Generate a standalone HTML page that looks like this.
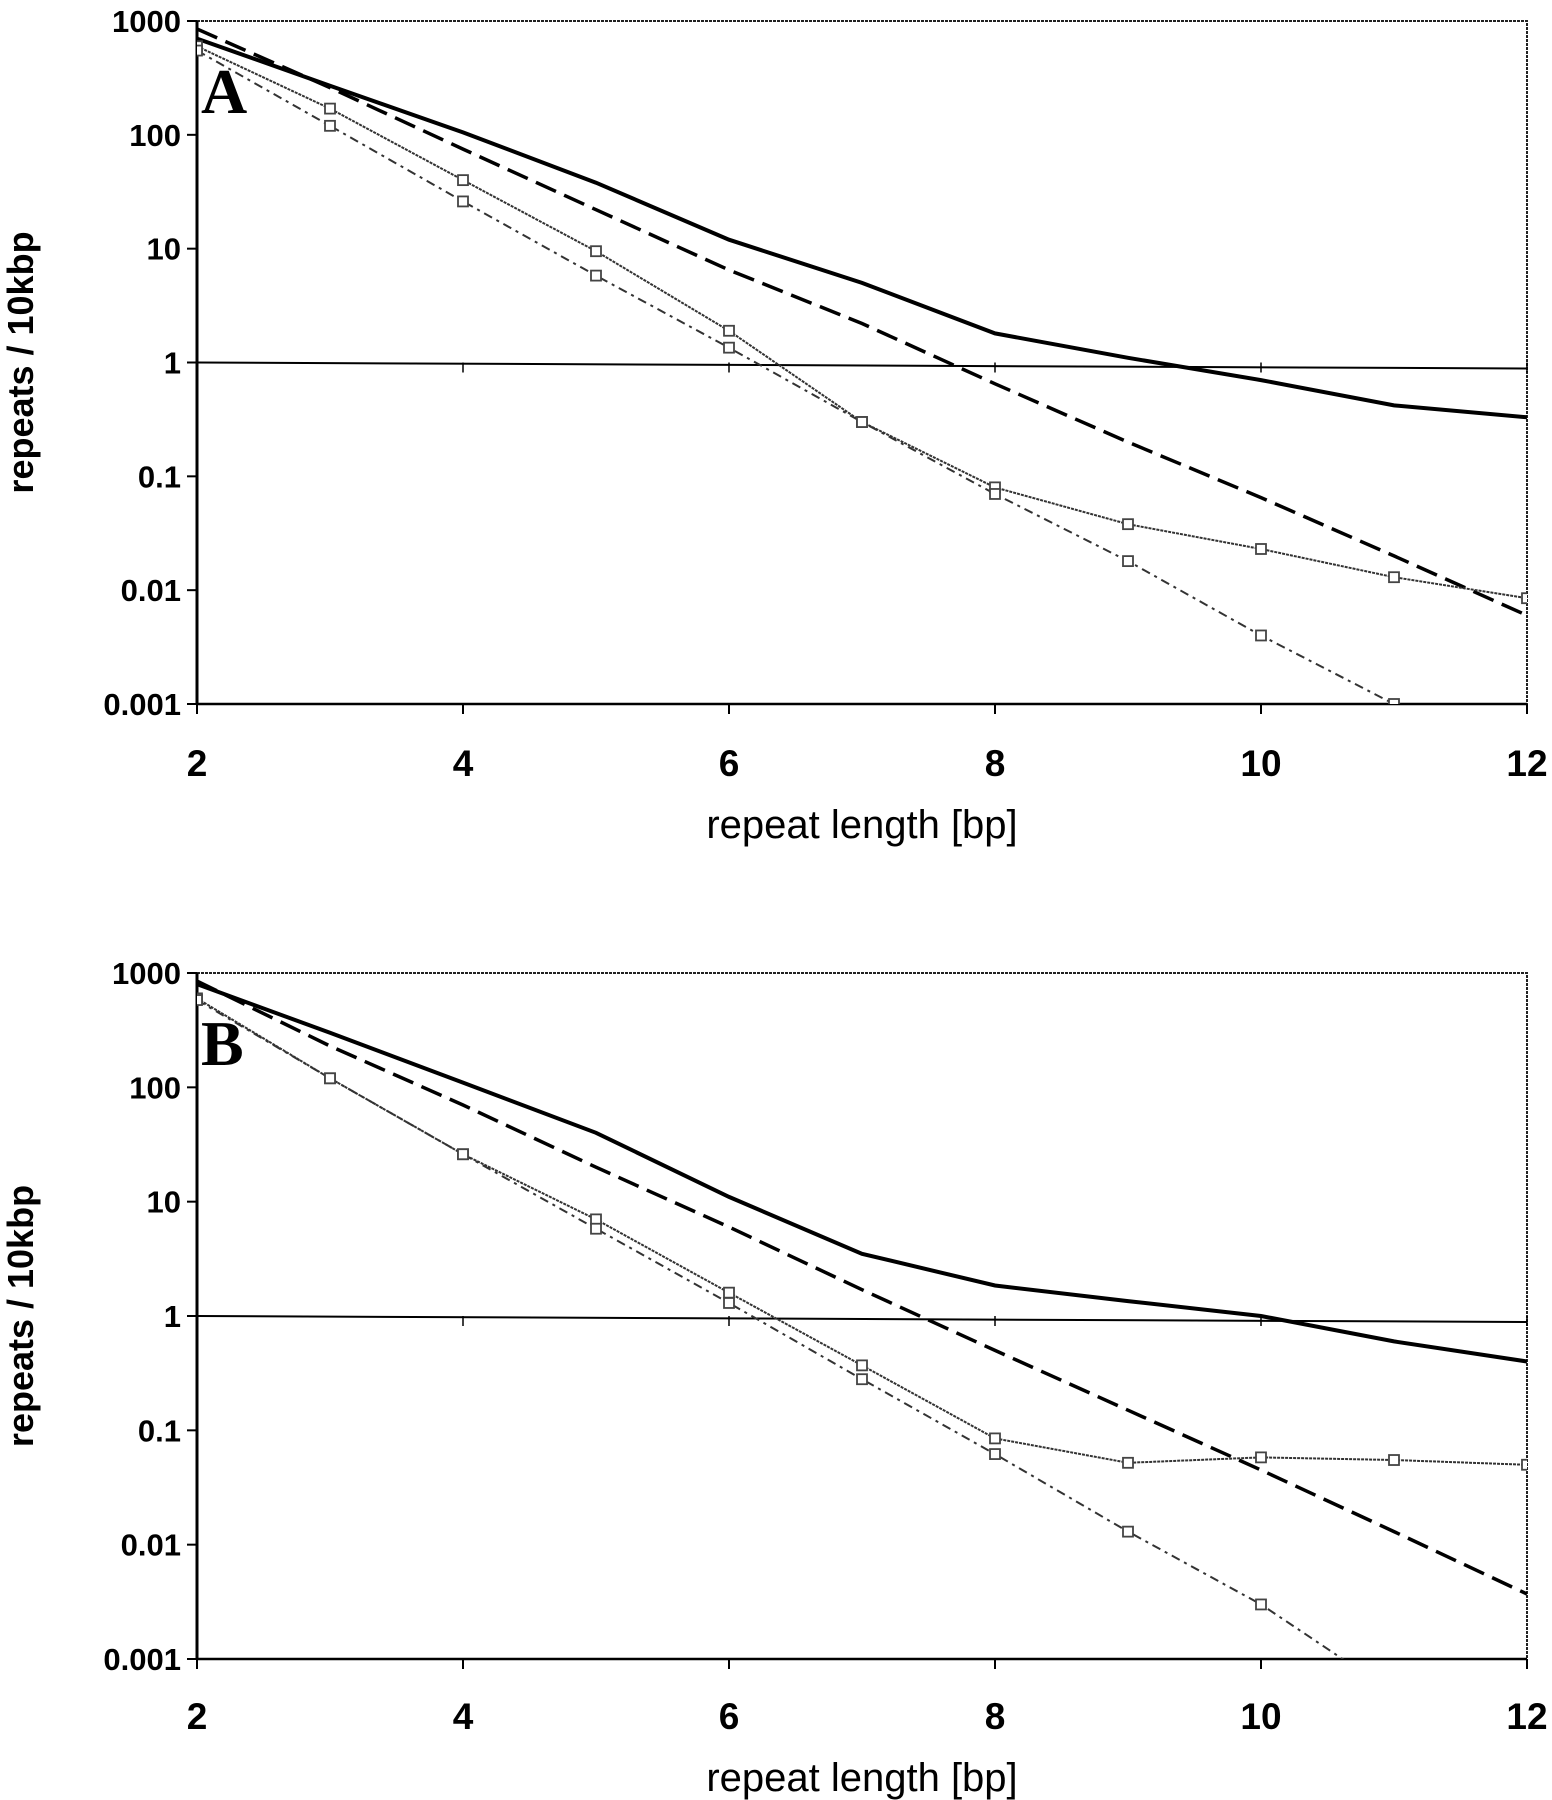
<!DOCTYPE html>
<html><head><meta charset="utf-8"><style>
body{margin:0;background:#fff}
svg{display:block}
text{font-family:"Liberation Sans",Arial,sans-serif;fill:#000}
</style></head><body>
<svg id="fig" width="1552" height="1800" viewBox="0 0 1552 1800" xmlns="http://www.w3.org/2000/svg"></svg>
<script>
const xCats=[2,3,4,5,6,7,8,9,10,11,12];
const xTicks=[2,4,6,8,10,12];
const yTicks=[0.001,0.01,0.1,1,10,100,1000];
const yTickLabels=["0.001","0.01","0.1","1","10","100","1000"];
const aSolid=[700,270,105,38,12,5,1.8,1.1,0.7,0.42,0.33];
const aDashed=[850,260,75,22,6.5,2.2,0.65,0.2,0.065,0.02,0.006];
const aDotted=[600,170,40,9.5,1.9,0.3,0.08,0.038,0.023,0.013,0.0085];
const aDashDot=[550,120,26,5.8,1.35,0.3,0.07,0.018,0.004,0.001,0.0007];
const bSolid=[800,300,110,40,11,3.5,1.85,1.35,1.0,0.6,0.4];
const bDashed=[850,230,70,20,6,1.7,0.5,0.15,0.045,0.013,0.0037];
const bDotted=[600,120,26,7,1.6,0.37,0.085,0.052,0.058,0.055,0.05];
const bDashDot=[580,120,26,5.8,1.3,0.28,0.062,0.013,0.003,0.0005,0.0001];

const NS="http://www.w3.org/2000/svg";
const svg=document.getElementById('fig');
function mk(tag,attrs,parent){const e=document.createElementNS(NS,tag);for(const k in attrs)e.setAttribute(k,attrs[k]);(parent||svg).appendChild(e);return e;}

function panel(id,top,bottom,letter,s1,s2,s3,s4,tickY,labelY){
  const L=197,R=1527;
  const xs=v=>L+(v-2)*(R-L)/10;
  const ys=v=>bottom-(Math.log10(v)+3)*(bottom-top)/6;
  const g=mk('g',{});
  
  
  const cp=mk('clipPath',{id:'clip'+id},g);
  mk('rect',{x:L,y:top,width:R-L,height:bottom-top},cp);
  const frame=mk('rect',{x:L,y:top,width:R-L,height:bottom-top,fill:'none',stroke:'#222','stroke-width':2,'stroke-dasharray':'3 1'},g);
  
  
  const ya=mk('line',{x1:L,y1:top,x2:L,y2:bottom,stroke:'#000','stroke-width':3},g);
  
  
  const xa=mk('line',{x1:L,y1:bottom,x2:R,y2:bottom,stroke:'#000','stroke-width':2.5},g);
  
  
  const ref=mk('line',{x1:L,y1:ys(1),x2:R,y2:ys(1)+6,stroke:'#000','stroke-width':2},g);
  
  
  yTicks.forEach((v,i)=>{
    mk('line',{x1:L-10,y1:ys(v),x2:L,y2:ys(v),stroke:'#000','stroke-width':2},g);
    const t=mk('text',{x:L-16,y:ys(v)+11,'text-anchor':'end','font-size':31,'font-weight':'bold'},g);
    t.textContent=yTickLabels[i];
    
    
  });
  xTicks.forEach(v=>{
    mk('line',{x1:xs(v),y1:bottom,x2:xs(v),y2:bottom+10,stroke:'#000','stroke-width':2},g);
    mk('line',{x1:xs(v),y1:ys(1),x2:xs(v),y2:ys(1)+10,stroke:'#000','stroke-width':1.5},g);
    const t=mk('text',{x:xs(v),y:tickY,'text-anchor':'middle','font-size':37,'font-weight':'bold'},g);
    t.textContent=v;
    
    
  });
  const xl=mk('text',{x:862,y:labelY,'text-anchor':'middle','font-size':40},g);
  xl.textContent='repeat length [bp]';
  
  
  const cy=(top+bottom)/2;
  const yl=mk('text',{x:0,y:0,'text-anchor':'middle','font-size':36,'font-weight':'bold',transform:`translate(33,${cy}) rotate(-90)`},g);
  yl.textContent='repeats / 10kbp';
  
  
  const series=[[s1,{stroke:'#000','stroke-width':4},false,'solid'],[s2,{stroke:'#000','stroke-width':3.5,'stroke-dasharray':'22 9'},false,'dashed'],[s3,{stroke:'#333','stroke-width':2,'stroke-dasharray':'3 1'},true,'dotted'],[s4,{stroke:'#333','stroke-width':2,'stroke-dasharray':'9 5 3 5'},true,'dashdot']];
  const cg=mk('g',{'clip-path':`url(#clip${id})`},g);
  series.forEach(([vals,st,markers,nm])=>{
    const d=vals.map((v,i)=>(i?'L':'M')+xs(xCats[i]).toFixed(1)+','+ys(v).toFixed(1)).join(' ');
    const p=mk('path',Object.assign({d,fill:'none'},st),cg);
    
    
    if(markers)vals.forEach((v,i)=>{
      if(v<0.00095)return;
      const m=mk('rect',{x:xs(xCats[i])-5,y:ys(v)-5,width:10,height:10,fill:'#fff',stroke:'#444','stroke-width':1.8},cg);
      
      
    });
  });
  const lt=mk('text',{x:201,y:top+92,'font-size':64,'font-weight':'bold'},g);
  lt.setAttribute('style','font-family:"Liberation Serif",serif');
  lt.textContent=letter;
  
  
}
panel('a',21,704,'A',aSolid,aDashed,aDotted,aDashDot,776,838);
panel('b',973,1659,'B',bSolid,bDashed,bDotted,bDashDot,1729,1791);
</script>
</body></html>
